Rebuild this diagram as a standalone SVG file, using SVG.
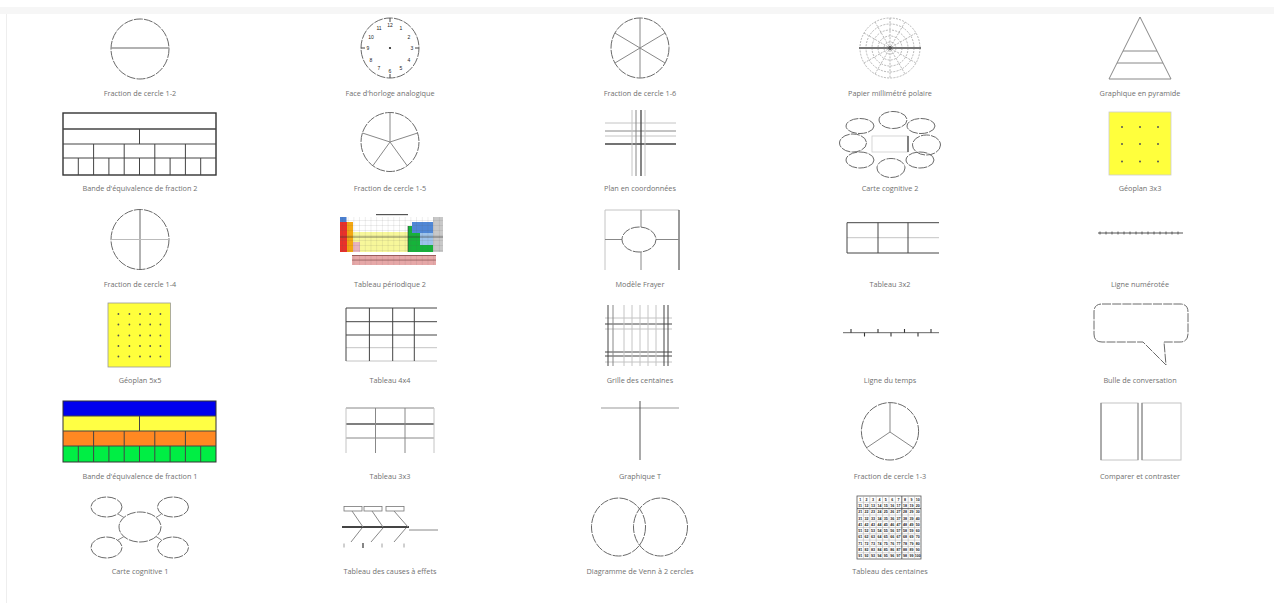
<svg xmlns="http://www.w3.org/2000/svg" width="1274" height="603" viewBox="0 0 1274 603">
<defs>
<style>
.lbl{font-family:"Open Sans","Noto Sans","Liberation Sans",sans-serif;font-size:7.3px;fill:#707070;text-anchor:middle}
.d{fill:none;stroke:#6a6a6a;stroke-width:1;stroke-dasharray:9 1.2}
.dl{fill:none;stroke:#999;stroke-width:0.7;stroke-dasharray:2 1.2}
.k{stroke:#444;stroke-width:1;fill:none}
.m{stroke:#888;stroke-width:1;fill:none}
.l{stroke:#c4c4c4;stroke-width:1;fill:none}
.num{font-family:"Liberation Sans",Arial,sans-serif;font-size:5px;fill:#222;text-anchor:middle}
.hc{font-family:"Liberation Sans",Arial,sans-serif;font-size:3.6px;font-weight:bold;fill:#222;text-anchor:middle}
.dot{fill:#555}
</style>
<pattern id="cells" width="5.7" height="5" patternUnits="userSpaceOnUse"><path d="M0 0H5.7M0 0V5" stroke="#555" stroke-width="0.35" fill="none" opacity="0.6"/></pattern>
</defs>
<rect x="0" y="0" width="1274" height="603" fill="#fff"/>
<rect x="0" y="7" width="1274" height="7" fill="#f6f6f6"/>
<line x1="6.5" y1="14" x2="6.5" y2="603" stroke="#eee"/>

<!-- Row 1 -->
<g id="fraction-cercle-1-2">
<ellipse class="d" cx="140" cy="49" rx="29" ry="30"/>
<line x1="111" y1="48" x2="169" y2="48" stroke="#999" stroke-width="1.6"/>
<text class="lbl" x="140" y="95.7">Fraction de cercle 1-2</text>
</g>
<g id="horloge">
<ellipse class="d" cx="390" cy="48" rx="29" ry="30" stroke="#333" stroke-dasharray="4 1.5"/>
<g class="k">
<line x1="390" y1="18" x2="390" y2="22"/><line x1="390" y1="74" x2="390" y2="78"/>
<line x1="361" y1="48" x2="365" y2="48"/><line x1="415" y1="48" x2="419" y2="48"/>
</g>
<text class="num" x="390" y="27">12</text>
<text class="num" x="401" y="30">1</text>
<text class="num" x="409" y="38.5">2</text>
<text class="num" x="412" y="50">3</text>
<text class="num" x="409" y="61.5">4</text>
<text class="num" x="401" y="70">5</text>
<text class="num" x="390" y="73">6</text>
<text class="num" x="379" y="70">7</text>
<text class="num" x="371" y="61.5">8</text>
<text class="num" x="368" y="50">9</text>
<text class="num" x="371" y="38.5">10</text>
<text class="num" x="379" y="30">11</text>
<circle cx="390" cy="48" r="1.1" fill="#222"/>
<text class="lbl" x="390" y="95.7">Face d'horloge analogique</text>
</g>
<g id="fraction-cercle-1-6">
<ellipse class="d" cx="640" cy="48" rx="29" ry="30"/>
<g class="m" stroke="#666">
<line x1="640" y1="18" x2="640" y2="78"/>
<line x1="614.9" y1="33" x2="665.1" y2="63"/>
<line x1="614.9" y1="63" x2="665.1" y2="33"/>
</g>
<text class="lbl" x="640" y="95.7">Fraction de cercle 1-6</text>
</g>
<g id="papier-polaire">
<circle class="dl" cx="890" cy="48" r="6"/>
<circle class="dl" cx="890" cy="48" r="12"/>
<circle class="dl" cx="890" cy="48" r="18"/>
<circle class="dl" cx="890" cy="48" r="24"/>
<circle class="dl" cx="890" cy="48" r="30" stroke="#777"/>
<g class="dl">
<line x1="864.02" y1="33" x2="915.98" y2="63"/>
<line x1="875" y1="22.02" x2="905" y2="73.98"/>
<line x1="890" y1="18" x2="890" y2="78"/>
<line x1="875" y1="73.98" x2="905" y2="22.02"/>
<line x1="864.02" y1="63" x2="915.98" y2="33"/>
</g>
<line x1="859" y1="48" x2="921" y2="48" stroke="#777" stroke-width="2.2"/>
<circle cx="890" cy="48" r="2" fill="#555"/>
<text class="lbl" x="890" y="95.7">Papier millimétré polaire</text>
</g>
<g id="pyramide">
<polygon class="m" stroke="#666" points="1140,17 1109,79 1171,79"/>
<line class="m" stroke="#666" x1="1123" y1="51" x2="1157" y2="51"/>
<line class="m" stroke="#666" x1="1117" y1="63" x2="1163" y2="63"/>
<text class="lbl" x="1140" y="95.7">Graphique en pyramide</text>
</g>

<!-- Row 2 -->
<g id="bande-fraction-2">
<rect x="63" y="113" width="153" height="62" fill="#fff" stroke="#333" stroke-width="1.4"/>
<g class="k" stroke="#333">
<line x1="63" y1="129" x2="216" y2="129" stroke-width="1.4"/>
<line x1="63" y1="144" x2="216" y2="144"/>
<line x1="63" y1="158" x2="216" y2="158"/>
<line x1="139.5" y1="129" x2="139.5" y2="144"/>
<line x1="93.6" y1="144" x2="93.6" y2="158"/>
<line x1="124.2" y1="144" x2="124.2" y2="158"/>
<line x1="154.8" y1="144" x2="154.8" y2="158"/>
<line x1="185.4" y1="144" x2="185.4" y2="158"/>
<line x1="78.3" y1="158" x2="78.3" y2="175"/>
<line x1="93.6" y1="158" x2="93.6" y2="175"/>
<line x1="108.9" y1="158" x2="108.9" y2="175"/>
<line x1="124.2" y1="158" x2="124.2" y2="175"/>
<line x1="139.5" y1="158" x2="139.5" y2="175"/>
<line x1="154.8" y1="158" x2="154.8" y2="175"/>
<line x1="170.1" y1="158" x2="170.1" y2="175"/>
<line x1="185.4" y1="158" x2="185.4" y2="175"/>
<line x1="200.7" y1="158" x2="200.7" y2="175"/>
</g>
<text class="lbl" x="140" y="190.7">Bande d'équivalence de fraction 2</text>
</g>
<g id="fraction-cercle-1-5">
<ellipse class="d" cx="390" cy="142" rx="29" ry="29.5"/>
<g class="m" stroke="#666">
<line x1="390" y1="142" x2="390" y2="112.5"/>
<line x1="390" y1="142" x2="417.6" y2="133"/>
<line x1="390" y1="142" x2="407" y2="165.5"/>
<line x1="390" y1="142" x2="373" y2="165.5"/>
<line x1="390" y1="142" x2="362.4" y2="133"/>
</g>
<text class="lbl" x="390" y="190.7">Fraction de cercle 1-5</text>
</g>
<g id="plan-coordonnees">
<line class="l" x1="605" y1="123" x2="676" y2="123"/>
<line class="m" x1="605" y1="131" x2="676" y2="131" stroke="#999"/>
<line class="l" x1="605" y1="136" x2="676" y2="136"/>
<line x1="605" y1="144" x2="676" y2="144" stroke="#444" stroke-width="1.4"/>
<line class="l" x1="632" y1="110" x2="632" y2="176"/>
<line class="m" x1="636" y1="110" x2="636" y2="176" stroke="#999"/>
<line x1="641" y1="110" x2="641" y2="176" stroke="#444" stroke-width="1.3"/>
<line class="l" x1="645" y1="110" x2="645" y2="176"/>
<text class="lbl" x="640" y="190.7">Plan en coordonnées</text>
</g>
<g id="carte-cognitive-2">
<rect x="872" y="136" width="36" height="16" fill="none" stroke="#ccc" stroke-width="0.8"/>
<line x1="908" y1="136" x2="908" y2="152" stroke="#555" stroke-width="1.4"/>
<ellipse class="d" cx="893" cy="120" rx="14" ry="8.5"/>
<ellipse class="d" cx="860" cy="126" rx="14" ry="7.5"/>
<ellipse class="d" cx="921" cy="126" rx="14" ry="7.5"/>
<ellipse class="d" cx="853" cy="143" rx="13.5" ry="9"/>
<ellipse class="d" cx="926.5" cy="145" rx="14" ry="10"/>
<ellipse class="d" cx="860" cy="160" rx="14" ry="8"/>
<ellipse class="d" cx="920" cy="160" rx="14" ry="8"/>
<ellipse class="d" cx="891" cy="168" rx="14" ry="9.5"/>
<text class="lbl" x="890" y="190.7">Carte cognitive 2</text>
</g>
<g id="geoplan-3x3">
<rect x="1109" y="112" width="62" height="63" fill="#ffff3c" stroke="#ccc" stroke-width="0.8"/>
<g class="dot">
<circle cx="1122" cy="127" r="1"/><circle cx="1140" cy="127" r="1"/><circle cx="1158" cy="127" r="1"/>
<circle cx="1122" cy="144" r="1"/><circle cx="1140" cy="144" r="1"/><circle cx="1158" cy="144" r="1"/>
<circle cx="1122" cy="161.5" r="1"/><circle cx="1140" cy="161.5" r="1"/><circle cx="1158" cy="161.5" r="1"/>
</g>
<text class="lbl" x="1140" y="190.7">Géoplan 3x3</text>
</g>

<!-- Row 3 -->
<g id="fraction-cercle-1-4">
<ellipse class="d" cx="140" cy="239.5" rx="29" ry="30"/>
<line x1="140" y1="209.5" x2="140" y2="269.5" stroke="#666"/>
<line x1="111" y1="239.5" x2="169" y2="239.5" stroke="#bbb"/>
<text class="lbl" x="140" y="286.7">Fraction de cercle 1-4</text>
</g>
<g id="tableau-periodique-2">
<rect x="376" y="214" width="32" height="1.2" fill="#555"/>
<rect x="340" y="217" width="6.5" height="5" fill="#4a7fd0"/>
<rect x="340" y="222" width="7" height="30" fill="#e8302a"/>
<rect x="347" y="222" width="6" height="30" fill="#f3a712"/>
<rect x="353" y="232" width="55" height="20" fill="#f7f79a"/>
<rect x="353" y="242" width="7" height="10" fill="#e8b4c0"/>
<rect x="408" y="226" width="14" height="26" fill="#16b33a"/>
<rect x="412" y="222" width="21" height="11" fill="#4f87d6"/>
<rect x="420" y="233" width="13" height="12" fill="#9dc3ea"/>
<rect x="422" y="245" width="11" height="7" fill="#16b33a"/>
<rect x="433" y="217" width="10" height="35" fill="#c8c8c8"/>
<rect x="340" y="217" width="103" height="35" fill="url(#cells)"/>
<line x1="340" y1="237" x2="443" y2="237" stroke="#333" stroke-width="0.6"/>
<line x1="408" y1="226" x2="408" y2="252" stroke="#333" stroke-width="0.6"/>
<rect x="352" y="255" width="84" height="10" fill="#e6a8a8"/>
<rect x="352" y="255" width="84" height="10" fill="url(#cells)"/>
<line x1="352" y1="255.5" x2="436" y2="255.5" stroke="#8a4a4a" stroke-width="0.8"/>
<line x1="352" y1="260" x2="436" y2="260" stroke="#8a4a4a" stroke-width="0.6"/>
<text class="lbl" x="390" y="286.7">Tableau périodique 2</text>
</g>
<g id="modele-frayer">
<line class="l" x1="605" y1="210" x2="679" y2="210"/>
<line class="l" x1="605" y1="210" x2="605" y2="270"/>
<line x1="679" y1="210" x2="679" y2="270" stroke="#555" stroke-width="1.2"/>
<line class="m" x1="641" y1="210" x2="641" y2="227" stroke="#777"/>
<line class="m" x1="641" y1="252" x2="641" y2="270" stroke="#777"/>
<line class="m" x1="605" y1="239.5" x2="622" y2="239.5" stroke="#888"/>
<line class="m" x1="656" y1="239.5" x2="679" y2="239.5" stroke="#666"/>
<ellipse class="d" cx="639" cy="239.5" rx="17" ry="12.5"/>
<text class="lbl" x="640" y="286.7">Modèle Frayer</text>
</g>
<g id="tableau-3x2">
<line class="k" x1="847" y1="222.7" x2="939" y2="222.7"/>
<line class="l" x1="847" y1="237.7" x2="939" y2="237.7"/>
<line class="k" x1="847" y1="253" x2="939" y2="253"/>
<line class="k" x1="847" y1="222.7" x2="847" y2="253"/>
<line class="k" x1="878" y1="222.7" x2="878" y2="253"/>
<line class="k" x1="908" y1="222.7" x2="908" y2="253"/>
<text class="lbl" x="890" y="286.7">Tableau 3x2</text>
</g>
<g id="ligne-numerotee">
<line x1="1098" y1="233" x2="1183" y2="233" stroke="#555" stroke-width="1"/>
<path d="M1100 231.5v3M1106 231.5v3M1112 231.5v3M1118 231.5v3M1124 231.5v3M1130 231.5v3M1136 231.5v3M1142 231.5v3M1148 231.5v3M1154 231.5v3M1160 231.5v3M1166 231.5v3M1172 231.5v3M1178 231.5v3" stroke="#444" stroke-width="0.8"/>
<text class="lbl" x="1140" y="286.7">Ligne numérotée</text>
</g>

<!-- Row 4 -->
<g id="geoplan-5x5">
<rect x="108" y="303" width="62.5" height="64" fill="#ffff3c" stroke="#999" stroke-width="0.8"/>
<g class="dot">
<circle cx="118.4" cy="314" r="0.9"/><circle cx="129.4" cy="314" r="0.9"/><circle cx="140" cy="314" r="0.9"/><circle cx="150.2" cy="314" r="0.9"/><circle cx="160.4" cy="314" r="0.9"/>
<circle cx="118.4" cy="324.5" r="0.9"/><circle cx="129.4" cy="324.5" r="0.9"/><circle cx="140" cy="324.5" r="0.9"/><circle cx="150.2" cy="324.5" r="0.9"/><circle cx="160.4" cy="324.5" r="0.9"/>
<circle cx="118.4" cy="335.5" r="0.9"/><circle cx="129.4" cy="335.5" r="0.9"/><circle cx="140" cy="335.5" r="0.9"/><circle cx="150.2" cy="335.5" r="0.9"/><circle cx="160.4" cy="335.5" r="0.9"/>
<circle cx="118.4" cy="346" r="0.9"/><circle cx="129.4" cy="346" r="0.9"/><circle cx="140" cy="346" r="0.9"/><circle cx="150.2" cy="346" r="0.9"/><circle cx="160.4" cy="346" r="0.9"/>
<circle cx="118.4" cy="356.5" r="0.9"/><circle cx="129.4" cy="356.5" r="0.9"/><circle cx="140" cy="356.5" r="0.9"/><circle cx="150.2" cy="356.5" r="0.9"/><circle cx="160.4" cy="356.5" r="0.9"/>
</g>
<text class="lbl" x="140" y="382.7">Géoplan 5x5</text>
</g>
<g id="tableau-4x4">
<line class="k" x1="346" y1="308" x2="437" y2="308"/>
<line class="k" x1="346" y1="321.7" x2="437" y2="321.7"/>
<line class="k" x1="346" y1="335" x2="437" y2="335"/>
<line class="l" x1="346" y1="347.7" x2="437" y2="347.7"/>
<line class="l" x1="346" y1="361" x2="437" y2="361"/>
<line class="k" x1="346" y1="308" x2="346" y2="361"/>
<line class="k" x1="369.4" y1="308" x2="369.4" y2="361"/>
<line class="k" x1="392.7" y1="308" x2="392.7" y2="361"/>
<line class="k" x1="414.3" y1="308" x2="414.3" y2="361"/>
<text class="lbl" x="390" y="382.7">Tableau 4x4</text>
</g>
<g id="grille-centaines">
<line class="l" x1="605" y1="318" x2="672" y2="318"/>
<line class="k" x1="605" y1="324" x2="672" y2="324"/>
<line class="l" x1="605" y1="329" x2="672" y2="329"/>
<line class="k" x1="605" y1="352" x2="672" y2="352"/>
<line class="k" x1="605" y1="356" x2="672" y2="356"/>
<line class="l" x1="605" y1="362" x2="672" y2="362"/>
<line class="k" x1="608" y1="305" x2="608" y2="366"/>
<line class="m" x1="613" y1="305" x2="613" y2="366" stroke="#aaa"/>
<line class="l" x1="624" y1="305" x2="624" y2="366" stroke="#ddd"/>
<line class="l" x1="632" y1="305" x2="632" y2="366"/>
<line class="l" x1="640" y1="305" x2="640" y2="366" stroke="#ddd"/>
<line class="l" x1="648" y1="305" x2="648" y2="366"/>
<line class="l" x1="656" y1="305" x2="656" y2="366" stroke="#ddd"/>
<line class="k" x1="664" y1="305" x2="664" y2="366"/>
<line class="k" x1="668" y1="305" x2="668" y2="366"/>
<text class="lbl" x="640" y="382.7">Grille des centaines</text>
</g>
<g id="ligne-du-temps">
<line x1="843" y1="332.7" x2="939" y2="332.7" stroke="#666"/>
<path d="M851 329v3.7M878 329v3.7M904.5 329v3.7M931 329v3.7M864.5 332.7v3.7M891 332.7v3.7M918 332.7v3.7" stroke="#333" stroke-width="1.1"/>
<text class="lbl" x="890" y="382.7">Ligne du temps</text>
</g>
<g id="bulle-conversation">
<path class="d" d="M1102,304 H1180 Q1188,304 1188,312 V334 Q1188,342 1180,342 H1164 L1166,365 L1143,342 H1102 Q1094,342 1094,334 V312 Q1094,304 1102,304 Z"/>
<text class="lbl" x="1140" y="382.7">Bulle de conversation</text>
</g>

<!-- Row 5 -->
<g id="bande-fraction-1">
<rect x="63" y="401" width="153" height="15" fill="#0000ee"/>
<rect x="63" y="416" width="153" height="15" fill="#ffff44"/>
<rect x="63" y="431" width="153" height="15" fill="#ff8822"/>
<rect x="63" y="446" width="153" height="16" fill="#00ee44"/>
<rect x="63" y="401" width="153" height="61" fill="none" stroke="#333" stroke-width="1"/>
<g class="k" stroke="#333" stroke-width="0.9">
<line x1="63" y1="416" x2="216" y2="416"/>
<line x1="63" y1="431" x2="216" y2="431"/>
<line x1="63" y1="446" x2="216" y2="446"/>
<line x1="139.5" y1="416" x2="139.5" y2="431"/>
<line x1="93.6" y1="431" x2="93.6" y2="446"/>
<line x1="124.2" y1="431" x2="124.2" y2="446"/>
<line x1="154.8" y1="431" x2="154.8" y2="446"/>
<line x1="185.4" y1="431" x2="185.4" y2="446"/>
<line x1="78.3" y1="446" x2="78.3" y2="462"/>
<line x1="93.6" y1="446" x2="93.6" y2="462"/>
<line x1="108.9" y1="446" x2="108.9" y2="462"/>
<line x1="124.2" y1="446" x2="124.2" y2="462"/>
<line x1="139.5" y1="446" x2="139.5" y2="462"/>
<line x1="154.8" y1="446" x2="154.8" y2="462"/>
<line x1="170.1" y1="446" x2="170.1" y2="462"/>
<line x1="185.4" y1="446" x2="185.4" y2="462"/>
<line x1="200.7" y1="446" x2="200.7" y2="462"/>
</g>
<text class="lbl" x="140" y="478.7">Bande d'équivalence de fraction 1</text>
</g>
<g id="tableau-3x3">
<line class="m" x1="346" y1="408" x2="434" y2="408" stroke="#999"/>
<line x1="346" y1="424" x2="434" y2="424" stroke="#555" stroke-width="1.5"/>
<line class="m" x1="346" y1="438" x2="434" y2="438" stroke="#999"/>
<line class="l" x1="346" y1="408" x2="346" y2="453" stroke="#ddd"/>
<line class="l" x1="434" y1="408" x2="434" y2="453" stroke="#ddd"/>
<line class="m" x1="375.5" y1="408" x2="375.5" y2="453" stroke="#777"/>
<line class="m" x1="405" y1="408" x2="405" y2="453" stroke="#777"/>
<text class="lbl" x="390" y="478.7">Tableau 3x3</text>
</g>
<g id="graphique-t">
<line x1="601" y1="408" x2="679" y2="408" stroke="#999"/>
<line x1="640" y1="401" x2="640" y2="460" stroke="#555"/>
<text class="lbl" x="640" y="478.7">Graphique T</text>
</g>
<g id="fraction-cercle-1-3">
<ellipse class="d" cx="890" cy="431.3" rx="28.6" ry="28.7"/>
<g class="m" stroke="#666">
<line x1="890" y1="432" x2="890" y2="402.6"/>
<line x1="890" y1="432" x2="866.6" y2="447.8"/>
<line x1="890" y1="432" x2="913.4" y2="447.8"/>
</g>
<text class="lbl" x="890" y="478.7">Fraction de cercle 1-3</text>
</g>
<g id="comparer-contraster">
<rect class="l" x="1101" y="403" width="37" height="57" stroke="#ccc"/>
<rect class="l" x="1142" y="403" width="39" height="57" stroke="#ccc"/>
<line x1="1101" y1="403" x2="1101" y2="460" stroke="#777"/>
<line x1="1138" y1="403" x2="1138" y2="460" stroke="#888"/>
<line x1="1142" y1="403" x2="1142" y2="460" stroke="#777"/>
<text class="lbl" x="1140" y="478.7">Comparer et contraster</text>
</g>

<!-- Row 6 -->
<g id="carte-cognitive-1">
<ellipse class="d" cx="140" cy="527" rx="21" ry="15"/>
<ellipse class="d" cx="106.5" cy="507" rx="15.5" ry="10"/>
<ellipse class="d" cx="173" cy="507" rx="15.5" ry="10"/>
<ellipse class="d" cx="106.5" cy="547.5" rx="15.5" ry="10.5"/>
<ellipse class="d" cx="173" cy="547.5" rx="15.5" ry="10.5"/>
<g class="m" stroke="#777">
<line x1="118" y1="514" x2="124" y2="517.5"/>
<line x1="161.5" y1="514" x2="156" y2="517.5"/>
<line x1="118" y1="540" x2="124" y2="536.5"/>
<line x1="161.5" y1="540" x2="156" y2="536.5"/>
</g>
<text class="lbl" x="140" y="573.7">Carte cognitive 1</text>
</g>
<g id="causes-effets">
<g fill="none" stroke="#777" stroke-width="0.8">
<rect x="344" y="506.5" width="18" height="4.5"/>
<rect x="364" y="506.5" width="18" height="4.5"/>
<rect x="386" y="506.5" width="18" height="4.5"/>
</g>
<line x1="342" y1="527" x2="409" y2="527" stroke="#444" stroke-width="2"/>
<line x1="409" y1="530" x2="438" y2="530" stroke="#888"/>
<g class="m" stroke="#666">
<line x1="352" y1="511" x2="363" y2="527"/>
<line x1="372" y1="511" x2="383" y2="527"/>
<line x1="394" y1="511" x2="408" y2="527"/>
<line x1="351" y1="542" x2="362" y2="528"/>
<line x1="371" y1="542" x2="383" y2="528"/>
<line x1="394" y1="542" x2="406" y2="528"/>
</g>
<path d="M344 543.5v4M382 543.5v4M404 543.5v4" stroke="#888" stroke-width="0.8"/>
<path d="M363 543v5" stroke="#444" stroke-width="1.3"/>
<text class="lbl" x="390" y="573.7">Tableau des causes à effets</text>
</g>
<g id="venn-2-cercles">
<ellipse class="d" cx="618.5" cy="527" rx="27" ry="29"/>
<ellipse class="d" cx="660.5" cy="527" rx="27" ry="29"/>
<text class="lbl" x="640" y="573.7">Diagramme de Venn à 2 cercles</text>
</g>
<g id="tableau-centaines">
<rect x="857" y="496" width="64" height="63" fill="#fff" stroke="#555" stroke-width="0.8"/>
<path d="M863.4 496V559M869.8 496V559M876.2 496V559M882.6 496V559M889 496V559M895.4 496V559M908.2 496V559M914.6 496V559M857 502.3H921M857 515H921M857 521.2H921M857 527.5H921M857 533.8H921M857 540.1H921M857 546.4H921M857 552.7H921" stroke="#aaa" stroke-width="0.5"/>
<path d="M901.8 496V559M857 508.6H921" stroke="#444" stroke-width="0.8"/>
<text class="hc" y="500.6"><tspan x="860.2">1</tspan><tspan x="866.6">2</tspan><tspan x="873">3</tspan><tspan x="879.4">4</tspan><tspan x="885.8">5</tspan><tspan x="892.2">6</tspan><tspan x="898.6">7</tspan><tspan x="905">8</tspan><tspan x="911.4">9</tspan><tspan x="917.8">10</tspan></text>
<text class="hc" y="506.9"><tspan x="860.2">11</tspan><tspan x="866.6">12</tspan><tspan x="873">13</tspan><tspan x="879.4">14</tspan><tspan x="885.8">15</tspan><tspan x="892.2">16</tspan><tspan x="898.6">17</tspan><tspan x="905">18</tspan><tspan x="911.4">19</tspan><tspan x="917.8">20</tspan></text>
<text class="hc" y="513.2"><tspan x="860.2">21</tspan><tspan x="866.6">22</tspan><tspan x="873">23</tspan><tspan x="879.4">24</tspan><tspan x="885.8">25</tspan><tspan x="892.2">26</tspan><tspan x="898.6">27</tspan><tspan x="905">28</tspan><tspan x="911.4">29</tspan><tspan x="917.8">30</tspan></text>
<text class="hc" y="519.5"><tspan x="860.2">31</tspan><tspan x="866.6">32</tspan><tspan x="873">33</tspan><tspan x="879.4">34</tspan><tspan x="885.8">35</tspan><tspan x="892.2">36</tspan><tspan x="898.6">37</tspan><tspan x="905">38</tspan><tspan x="911.4">39</tspan><tspan x="917.8">40</tspan></text>
<text class="hc" y="525.8"><tspan x="860.2">41</tspan><tspan x="866.6">42</tspan><tspan x="873">43</tspan><tspan x="879.4">44</tspan><tspan x="885.8">45</tspan><tspan x="892.2">46</tspan><tspan x="898.6">47</tspan><tspan x="905">48</tspan><tspan x="911.4">49</tspan><tspan x="917.8">50</tspan></text>
<text class="hc" y="532.1"><tspan x="860.2">51</tspan><tspan x="866.6">52</tspan><tspan x="873">53</tspan><tspan x="879.4">54</tspan><tspan x="885.8">55</tspan><tspan x="892.2">56</tspan><tspan x="898.6">57</tspan><tspan x="905">58</tspan><tspan x="911.4">59</tspan><tspan x="917.8">60</tspan></text>
<text class="hc" y="538.4"><tspan x="860.2">61</tspan><tspan x="866.6">62</tspan><tspan x="873">63</tspan><tspan x="879.4">64</tspan><tspan x="885.8">65</tspan><tspan x="892.2">66</tspan><tspan x="898.6">67</tspan><tspan x="905">68</tspan><tspan x="911.4">69</tspan><tspan x="917.8">70</tspan></text>
<text class="hc" y="544.7"><tspan x="860.2">71</tspan><tspan x="866.6">72</tspan><tspan x="873">73</tspan><tspan x="879.4">74</tspan><tspan x="885.8">75</tspan><tspan x="892.2">76</tspan><tspan x="898.6">77</tspan><tspan x="905">78</tspan><tspan x="911.4">79</tspan><tspan x="917.8">80</tspan></text>
<text class="hc" y="551"><tspan x="860.2">81</tspan><tspan x="866.6">82</tspan><tspan x="873">83</tspan><tspan x="879.4">84</tspan><tspan x="885.8">85</tspan><tspan x="892.2">86</tspan><tspan x="898.6">87</tspan><tspan x="905">88</tspan><tspan x="911.4">89</tspan><tspan x="917.8">90</tspan></text>
<text class="hc" y="557.3"><tspan x="860.2">91</tspan><tspan x="866.6">92</tspan><tspan x="873">93</tspan><tspan x="879.4">94</tspan><tspan x="885.8">95</tspan><tspan x="892.2">96</tspan><tspan x="898.6">97</tspan><tspan x="905">98</tspan><tspan x="911.4">99</tspan><tspan x="917.8">100</tspan></text>
<text class="lbl" x="890" y="573.7">Tableau des centaines</text>
</g>
</svg>
